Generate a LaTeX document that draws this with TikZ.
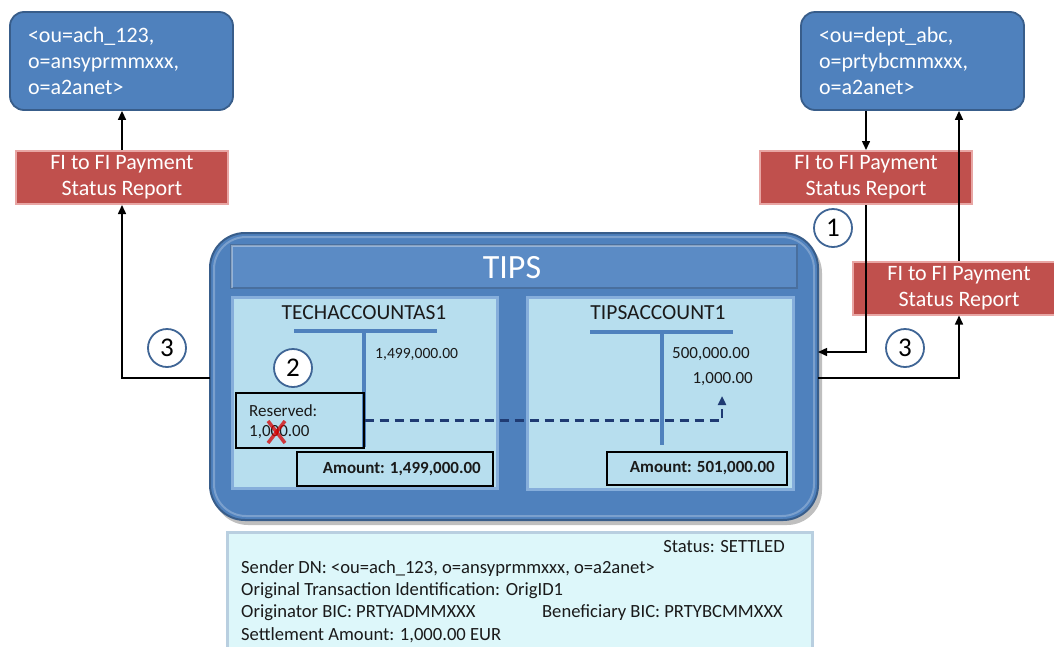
\documentclass[tikz,border=0pt]{standalone}
\usepackage{fontspec}
\setmainfont{Carlito}
\usetikzlibrary{arrows.meta}
\definecolor{bluebox}{HTML}{4F81BD}
\definecolor{blueedge}{HTML}{385D8A}
\definecolor{redbox}{HTML}{C0504D}
\definecolor{rededge}{HTML}{E8A6A4}
\definecolor{panelfill}{HTML}{B7DEEE}
\definecolor{paneledge}{HTML}{86AEDB}
\definecolor{infofill}{HTML}{DDF7FA}
\definecolor{infoedge}{HTML}{B9CFE0}
\definecolor{navy}{HTML}{1F3B73}
\definecolor{headfill}{HTML}{5B8BC5}
\definecolor{circedge}{HTML}{3F6595}
\definecolor{txt}{HTML}{1A1A1A}
\begin{document}
\begin{tikzpicture}[x=1pt,y=-1pt,
  bluenode/.style={draw=blueedge,line width=1.8pt,fill=bluebox,rounded corners=14pt,
    minimum width=223pt,minimum height=98pt,text width=187pt,align=left,text=white,
    font=\fontsize{22}{26}\selectfont,inner sep=0pt},
  rednode/.style={draw=rededge,line width=2pt,fill=redbox,minimum width=212pt,
    minimum height=53pt,align=center,text=white,font=\fontsize{22}{26}\selectfont,inner sep=0pt},
  numcirc/.style={circle,draw=circedge,line width=1.8pt,fill=white,minimum size=38pt,
    inner sep=0pt,font=\fontsize{27}{27}\selectfont,text=black},
  panelnode/.style={draw=paneledge,line width=3pt,fill=panelfill,inner sep=0pt},
  boxnode/.style={draw=black,line width=1.3pt,inner sep=0pt},
  small/.style={font=\fontsize{18.6}{22}\selectfont,text=txt,inner sep=0pt},
  arr/.style={draw=black,line width=1.5pt,-{Triangle[length=9pt,width=8pt]}},
  tbar/.style={draw=bluebox,line width=3.2pt}
]
\clip (0,0) rectangle (1054,646);
\fill[white] (0,0) rectangle (1054,646);

% top blue boxes
\node[bluenode] (blueL) at (121.5,61) {<ou=ach\_123,\\o=ansyprmmxxx,\\o=a2anet>};
\node[bluenode] (blueR) at (912.5,61) {<ou=dept\_abc,\\o=prtybcmmxxx,\\o=a2anet>};

% red boxes
\node[rednode] (redL) at (122,177.5) {FI to FI Payment\\Status Report};
\node[rednode] (redR1) at (866,177.5) {FI to FI Payment\\Status Report};
\node[rednode] (redR2) at (959,288) {FI to FI Payment\\Status Report};

% TIPS box
\fill[black,opacity=0.25,rounded corners=35pt] (213,238) rectangle (822,525);
\node[draw=blueedge,line width=2pt,fill=bluebox,rounded corners=35pt,
  minimum width=608pt,minimum height=287pt,inner sep=0pt] (tips) at (514,376.5) {};
\draw[white,opacity=0.25,line width=2pt,rounded corners=32pt] (214,237) rectangle (814,516);
\node[draw=headfill!80!black,line width=1.5pt,fill=headfill,minimum width=566pt,minimum height=43pt,inner sep=0pt] (head) at (514,266.5) {};
\draw[white,opacity=0.35,line width=1.5pt] (232,288) -- (232,246) -- (796,246);
\node[text=white,font=\fontsize{34}{34}\selectfont,inner sep=0pt] (tipslbl) at (512,268) {TIPS};

% panels
\node[panelnode,minimum width=265pt,minimum height=191pt] (panL) at (364.5,392.5) {};
\node[panelnode,minimum width=266pt,minimum height=192pt] (panR) at (660,393) {};

% left account
\node[small,font=\fontsize{21.5}{21.5}\selectfont] (accL) at (364,313) {TECHACCOUNTAS1};
\draw[tbar] (294,331) -- (437,331);
\draw[tbar] (364,331) -- (364,447);
\node[small,anchor=west,font=\fontsize{15.6}{15.6}\selectfont] (balL) at (375,354) {1,499,000.00};
\node[numcirc] (c2) at (293,368) {2};
\node[boxnode,minimum width=128pt,minimum height=55pt] (res) at (300,420.5) {};
\node[small,anchor=west,align=left,font=\fontsize{17}{20}\selectfont] (restxt) at (249,422) {Reserved:\\1,000.00};
\draw[red!85!black,opacity=0.75,line width=3.5pt] (268,421) -- (285,443);
\draw[red!85!black,opacity=0.75,line width=3.5pt] (285,421) -- (268,443);
\node[boxnode,minimum width=196pt,minimum height=34pt] (amtL) at (395,469) {};
\node[small,anchor=east,font=\bfseries\fontsize{17}{17}\selectfont] (amtLt) at (481,469) {Amount: 1,499,000.00};

% right account
\node[small,font=\fontsize{21.5}{21.5}\selectfont] (accR) at (658,313) {TIPSACCOUNT1};
\draw[tbar] (590,332) -- (733,332);
\draw[tbar] (662,332) -- (662,445);
\node[small,anchor=west,font=\fontsize{17}{17}\selectfont] (balR1) at (672,354) {500,000.00};
\node[small,anchor=east,font=\fontsize{17}{17}\selectfont] (balR2) at (753,379) {1,000.00};
\node[boxnode,minimum width=180pt,minimum height=33pt] (amtR) at (697,468.5) {};
\node[small,anchor=east,font=\bfseries\fontsize{17}{17}\selectfont] (amtRt) at (775,468.5) {Amount: 501,000.00};

% dashed transfer
\coordinate (dcorner) at (722,420.5);
\coordinate (dend) at (722,396);
\draw[navy,line width=2.4pt,dash pattern=on 9pt off 6pt,-{Triangle[length=9pt,width=8pt]}] (res.east) -- (dcorner) -- (dend);

% connectors
\node[numcirc] (c3L) at (167,348) {3};
\node[numcirc] (c1) at (833,228) {1};
\node[numcirc] (c3R) at (905,348) {3};
\coordinate (inR) at (818,352);
\coordinate (outR) at (818,378);
\coordinate (outL) at (210,378);
\draw[arr] (outL) -| (redL.south);
\draw[arr] (redL.north) -- (redL.north |- blueL.south);
\draw[arr] (redR1.north |- blueR.south) -- (redR1.north);
\draw[arr] (redR1.south) |- (inR);
\draw[arr] (outR) -| (redR2.south);
\draw[arr] (redR2.north) -- (redR2.north |- blueR.south);

% info box
\node[draw=infoedge,line width=3pt,fill=infofill,minimum width=585pt,minimum height=125pt,inner sep=0pt] (info) at (519.5,594.5) {};
\node[small,anchor=east] (status) at (785,547) {Status: SETTLED};
\node[small,anchor=west] (sender) at (241,569) {Sender DN: <ou=ach\_123, o=ansyprmmxxx, o=a2anet>};
\node[small,anchor=west] (orig) at (241,591) {Original Transaction Identification: OrigID1};
\node[small,anchor=west] (obic) at (241,613) {Originator BIC: PRTYADMMXXX};
\node[small,anchor=east] (bbic) at (783,613) {Beneficiary BIC: PRTYBCMMXXX};
\node[small,anchor=west] (samt) at (241,635) {Settlement Amount: 1,000.00 EUR};
\end{tikzpicture}
\end{document}
